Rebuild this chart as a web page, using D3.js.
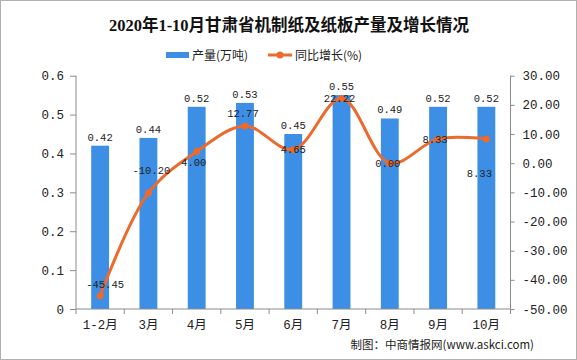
<!DOCTYPE html>
<html><head><meta charset="utf-8">
<script src="https://cdn.jsdelivr.net/npm/d3@7"></script>
<style>
body{margin:0;background:#fff;}
svg{display:block;}
</style></head>
<body>
<svg id="chart" width="577" height="360"></svg>
<script>
const categories = ["1-2月","3月","4月","5月","6月","7月","8月","9月","10月"];
const output = [0.42,0.44,0.52,0.53,0.45,0.55,0.49,0.52,0.52];
const growth = [-45.45,-10.20,4.00,12.77,4.65,22.22,0.00,8.33,8.33];
const leftTicks = [0,0.1,0.2,0.3,0.4,0.5,0.6];
const rightTicks = [-50,-40,-30,-20,-10,0,10,20,30];
const titleText = "2020年1-10月甘肃省机制纸及纸板产量及增长情况";
const legendLabels = ["产量(万吨)","同比增长(%)"];
const sourceText = "制图：中商情报网(www.askci.com)";
// label offsets for line data labels (layout)
const lineLabelDx = [5,3,-3,-2,0,-2,-2,-3,-7];
const lineLabelDy = [-11,-23,11,-13,0,0,0,0,34];

const BAR = "#3d8fe6", LINE = "#ec6a2c", AXIS = "#8c8c8c";
const monoFont = "'Liberation Mono','Noto Sans CJK SC',monospace";
const svg = d3.select("#chart");
svg.append("rect").attr("x",0.5).attr("y",0.5).attr("width",576).attr("height",359)
  .attr("fill","#fff").attr("stroke","#b0b0b0");

const L=76, R=510.5, T=75.7, B=309;
const x = d3.scaleBand().domain(categories).range([L,R]).padding(0);
const yL = d3.scaleLinear().domain([0,0.6]).range([B,T]);
const yR = d3.scaleLinear().domain([-50,30]).range([B,T]);

// title
svg.append("text").attr("x",289).attr("y",31).attr("text-anchor","middle")
  .attr("font-family","'Liberation Serif','Noto Sans CJK SC',serif").attr("font-weight","bold")
  .attr("font-size",16.5).attr("fill","#111").text(titleText);

// legend
const lg = svg.append("g").attr("font-family","'Noto Sans CJK SC',sans-serif").attr("font-size",12).attr("fill","#222");
lg.append("rect").attr("x",166).attr("y",52).attr("width",23).attr("height",6).attr("fill",BAR);
lg.append("text").attr("x",192).attr("y",59.5).text(legendLabels[0]);
lg.append("line").attr("x1",268).attr("x2",292).attr("y1",55).attr("y2",55).attr("stroke",LINE).attr("stroke-width",3);
lg.append("circle").attr("cx",280).attr("cy",55).attr("r",3.5).attr("fill",LINE);
lg.append("text").attr("x",295).attr("y",59.5).text(legendLabels[1]);

// bars
const barW = x.bandwidth()*0.37;
svg.append("g").selectAll("rect").data(output).join("rect")
  .attr("x",(d,i)=>x(categories[i])+(x.bandwidth()-barW)/2)
  .attr("y",d=>yL(d)).attr("width",barW).attr("height",d=>B-yL(d)).attr("fill",BAR);

// axes
const axL = svg.append("g").attr("transform",`translate(${L},0)`)
  .call(d3.axisLeft(yL).tickValues(leftTicks).tickSize(6).tickPadding(6).tickFormat(d=>d===0?"0":d.toFixed(1)));
const axR = svg.append("g").attr("transform",`translate(${R},0)`)
  .call(d3.axisRight(yR).tickValues(rightTicks).tickSize(4).tickPadding(8).tickFormat(d=>d.toFixed(2)));
const axX = svg.append("g").attr("transform",`translate(0,${B})`)
  .call(d3.axisBottom(x).tickSize(0).tickPadding(11));
[axL,axR,axX].forEach(a=>{
  a.selectAll("path,line").attr("stroke",AXIS);
  a.select(".domain").attr("stroke",AXIS);
  a.selectAll("text").attr("font-family",monoFont).attr("font-size",12.5).attr("fill","#222");
});
axX.selectAll("text").attr("font-size",12.5);
axL.select(".domain").attr("d",`M-0,${T}V${B}`);
axR.select(".domain").attr("d",`M0,${T}V${B}`);
axX.select(".domain").attr("d",`M${L},0H${R}`);
// band boundary ticks on x axis
const bounds = categories.map(c=>x(c)).concat([R]);
axX.selectAll("line.bt").data(bounds).join("line").attr("class","bt")
  .attr("x1",d=>d).attr("x2",d=>d).attr("y1",0).attr("y2",5).attr("stroke",AXIS);

// bar labels
svg.append("g").selectAll("text").data(output).join("text")
  .attr("x",(d,i)=>x(categories[i])+x.bandwidth()/2).attr("y",d=>yL(d)-5)
  .attr("text-anchor","middle").attr("font-family",monoFont).attr("font-size",10.5).attr("fill","#222")
  .text(d=>d.toFixed(2));

// line
const pts = growth.map((g,i)=>[x(categories[i])+x.bandwidth()/2, yR(g)]);
svg.append("path").attr("d",d3.line().curve(d3.curveCatmullRom.alpha(0.5))(pts))
  .attr("fill","none").attr("stroke",LINE).attr("stroke-width",3);
svg.append("g").selectAll("circle").data(pts).join("circle")
  .attr("cx",d=>d[0]).attr("cy",d=>d[1]).attr("r",3.5).attr("fill",LINE);

// line labels
svg.append("g").selectAll("text").data(growth).join("text")
  .attr("x",(d,i)=>pts[i][0]+lineLabelDx[i]).attr("y",(d,i)=>pts[i][1]+lineLabelDy[i])
  .attr("dy","0.35em").attr("text-anchor","middle").attr("font-family",monoFont)
  .attr("font-size",10.5).attr("fill","#222").text(d=>d.toFixed(2));

// source
svg.append("text").attr("x",534).attr("y",349).attr("text-anchor","end")
  .attr("font-family","'Noto Sans CJK SC',sans-serif").attr("font-size",11.5).attr("fill","#222")
  .text(sourceText);
</script>
</body></html>
